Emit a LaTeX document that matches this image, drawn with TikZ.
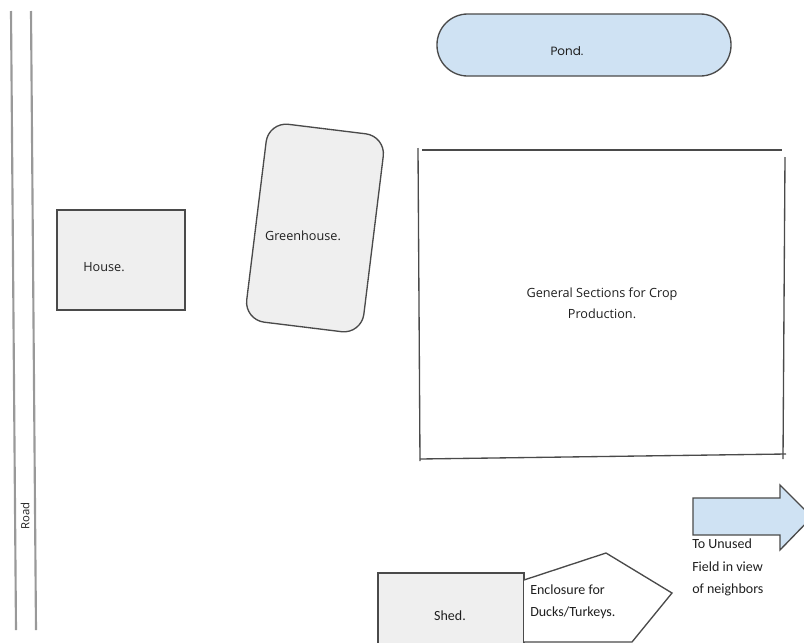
\documentclass[tikz,border=0pt]{standalone}
\usepackage{fontspec}
\setmainfont{Open Sans}
\newfontfamily\carl{Carlito}
\newfontfamily\popp{Poppins}
\definecolor{bluefill}{HTML}{CFE2F3}
\definecolor{grayfill}{HTML}{EFEFEF}
\definecolor{edge}{HTML}{4A4A4A}
\definecolor{roadc}{HTML}{999999}
\definecolor{txt}{HTML}{1F1F1F}
\tikzset{
  bldg/.style={draw=edge, line width=1pt, fill=grayfill, inner sep=0pt},
  lbl/.style={text=txt, font=\fontsize{9.5pt}{12pt}\selectfont, inner sep=0pt},
  clbl/.style={text=txt, font=\carl\fontsize{10.5pt}{16.5pt}\selectfont, inner sep=0pt, align=left},
  roadline/.style={draw=roadc, line width=1.6pt},
  sketch/.style={draw=edge, line width=1pt}
}
\begin{document}
\begin{tikzpicture}[x=0.75pt, y=-0.75pt]
\useasboundingbox (0,0) rectangle (804,643);
% Road
\coordinate (r1a) at (11,11); \coordinate (r1b) at (16,630);
\coordinate (r2a) at (31,11); \coordinate (r2b) at (36,630);
\draw[roadline] (r1a) -- (r1b);
\draw[roadline] (r2a) -- (r2b);
\node[lbl, rotate=90, font=\fontsize{8.5pt}{10pt}\selectfont] (road) at (25,516) {Road};
% House
\node[bldg, minimum width=96pt, minimum height=75pt] (house) at (121,260) {};
\node[lbl] (houset) at (104,267) {House.};
% Greenhouse
\node[bldg, rounded corners=15pt, rotate=-7, minimum width=88.5pt, minimum height=149.5pt] (gh) at (315,228) {};
\node[lbl] (ght) at (303,236) {Greenhouse.};
% Pond
\node[draw=edge, line width=1pt, fill=bluefill, rounded corners=23pt, minimum width=220.5pt, minimum height=46.5pt, inner sep=0pt] (pond) at (584,45) {};
\node[text=txt, font=\popp\fontsize{9pt}{11pt}\selectfont, inner sep=0pt] (pondt) at (567,51) {Pond.};
% Crop production (sketched)
\coordinate (c1) at (422,150); \coordinate (c2) at (782,150);
\coordinate (c3) at (418,148); \coordinate (c4) at (420,461);
\coordinate (c5) at (420,459); \coordinate (c6) at (786,454);
\coordinate (c7) at (785,157); \coordinate (c8) at (783,459);
\draw[sketch] (c1) -- (c2);
\draw[sketch] (c3) -- (c4);
\draw[sketch] (c5) -- (c6);
\draw[sketch] (c7) -- (c8);
\node[lbl, align=center, font=\fontsize{9.5pt}{16pt}\selectfont] (crop) at (602,303) {General Sections for Crop\\Production.};
% Shed
\node[bldg, minimum width=109.5pt, minimum height=60pt] (shed) at (451,613) {};
\node[clbl] (shedt) at (450,616) {Shed.};
% Enclosure
\coordinate (e1) at (524,580); \coordinate (e2) at (606,553);
\coordinate (e3) at (672,593); \coordinate (e4) at (632,642);
\coordinate (e5) at (524,642);
\draw[draw=edge, line width=1pt, fill=white] (e1) -- (e2) -- (e3) -- (e4) -- (e5);
\node[clbl, anchor=west] (enct) at (530,602) {Enclosure for\\Ducks/Turkeys.};
% Arrow to unused field
\coordinate (a1) at (693,498); \coordinate (a2) at (780,498);
\coordinate (a3) at (780,485); \coordinate (a4) at (812,517);
\coordinate (a5) at (780,550); \coordinate (a6) at (780,535);
\coordinate (a7) at (693,535);
\draw[draw=edge, line width=1pt, fill=bluefill] (a1) -- (a2) -- (a3) -- (a4) -- (a5) -- (a6) -- (a7) -- cycle;
\node[clbl, anchor=north west, font=\carl\fontsize{10.5pt}{16.8pt}\selectfont] (fieldt) at (692,539) {To Unused\\Field in view\\of neighbors};
\end{tikzpicture}
\end{document}
